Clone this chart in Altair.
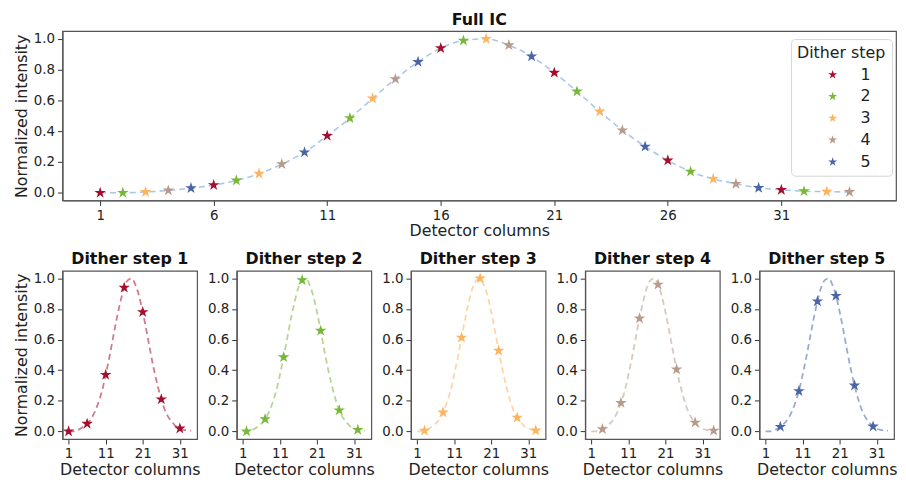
import altair as alt
import pandas as pd

# ---------------- data ----------------
columns = list(range(1, 35))
intensity = [0.0, 0.0, 0.005, 0.015, 0.03, 0.05, 0.08, 0.124, 0.186, 0.263,
             0.37, 0.485, 0.613, 0.739, 0.85, 0.94, 0.989, 1.0, 0.959, 0.886,
             0.78, 0.658, 0.528, 0.406, 0.30, 0.21, 0.138, 0.09, 0.058, 0.032,
             0.019, 0.01, 0.007, 0.005]
dither_steps = ["1", "2", "3", "4", "5"]
step_colors = ["#a50f2d", "#77b837", "#fdb45c", "#b89a8a", "#4a64a8"]
top_x_ticks = [1, 6, 11, 16, 21, 26, 31]
bottom_x_ticks = [1, 11, 21, 31]
y_ticks = [0.0, 0.2, 0.4, 0.6, 0.8, 1.0]

STAR = ("M0,-1L0.2245,-0.309L0.9511,-0.309L0.3633,0.118L0.5878,0.809L0,0.382"
        "L-0.5878,0.809L-0.3633,0.118L-0.9511,-0.309L-0.2245,-0.309Z")
FONT = "DejaVu Sans"

df = pd.DataFrame({
    "col": columns,
    "val": intensity,
    "step": [dither_steps[(c - 1) % 5] for c in columns],
})

y_scale = alt.Scale(domain=[-0.05, 1.05], nice=False, zero=False)

# ---------------- top panel ----------------
x_top = alt.X("col:Q", scale=alt.Scale(domain=[-0.66, 36.05], nice=False, zero=False),
              axis=alt.Axis(values=top_x_ticks, format="d", title="Detector columns",
                            titlePadding=1))
y_top = alt.Y("val:Q", scale=y_scale,
              axis=alt.Axis(values=y_ticks, format=".1f", title="Normalized intensity"))

line_top = alt.Chart(df).mark_line(
    color="#a9c8e8", strokeDash=[6, 4], strokeWidth=1.6, interpolate="monotone"
).encode(x=x_top, y=y_top)

pts_top = alt.Chart(df).mark_point(
    shape=STAR, filled=True, size=150, opacity=1
).encode(
    x=x_top, y=y_top,
    color=alt.Color("step:N", scale=alt.Scale(domain=dither_steps, range=step_colors),
                    legend=alt.Legend(title="Dither step", orient="none",
                                      legendX=736, legendY=8,
                                      symbolType=STAR, symbolSize=90,
                                      symbolOffset=28, labelOffset=20,
                                      rowPadding=6, padding=6, titlePadding=6,
                                      fillColor="rgba(255,255,255,0.8)",
                                      strokeColor="#d6d6d6", cornerRadius=4,
                                      titleFontSize=16, titleFontWeight="normal",
                                      labelFontSize=16, titleFont=FONT, labelFont=FONT,
                                      titleColor="#222", labelColor="#222"))
)

top = alt.layer(line_top, pts_top).properties(
    width=842, height=171,
    title=alt.Title("Full IC", fontSize=16, fontWeight="bold", font=FONT,
                    color="#111", offset=3)
)

# ---------------- bottom panels ----------------
panels = []
for i, step in enumerate(dither_steps):
    sub = df[df["step"] == step]
    x_b = alt.X("col:Q", scale=alt.Scale(domain=[-0.65, 35.65], nice=False, zero=False),
                axis=alt.Axis(values=bottom_x_ticks, format="d", title="Detector columns",
                              titlePadding=1))
    y_b = alt.Y("val:Q", scale=y_scale,
                axis=alt.Axis(values=y_ticks, format=".1f",
                              title="Normalized intensity" if i == 0 else None))
    ln = alt.Chart(df).mark_line(
        color=step_colors[i], opacity=0.55, strokeDash=[6, 4], strokeWidth=1.8,
        interpolate="monotone"
    ).encode(x=x_b, y=y_b)
    pt = alt.Chart(sub).mark_point(
        shape=STAR, filled=True, size=150, opacity=1, color=step_colors[i]
    ).encode(x=x_b, y=y_b)
    panels.append(
        alt.layer(ln, pt).properties(
            width=136, height=170,
            title=alt.Title(f"Dither step {step}", fontSize=16, fontWeight="bold",
                            font=FONT, color="#111", offset=4)
        )
    )

bottom = alt.hconcat(*panels, spacing=40, bounds="flush")

chart = alt.vconcat(top, bottom, spacing=71, bounds="flush").properties(
    padding={"left": 4, "top": 1, "right": 0, "bottom": 0}
).configure_view(
    stroke="#555", strokeWidth=1.2
).configure_axis(
    labelFont=FONT, titleFont=FONT, labelFontSize=13.5, titleFontSize=16,
    titleFontWeight="normal", labelColor="#222", titleColor="#222",
    tickSize=5, tickColor="#333", domainColor="#555", domainWidth=1.2,
    labelPadding=3, titlePadding=4, grid=False
)

chart.save("out.html", embed_options={"renderer": "svg", "actions": False})
